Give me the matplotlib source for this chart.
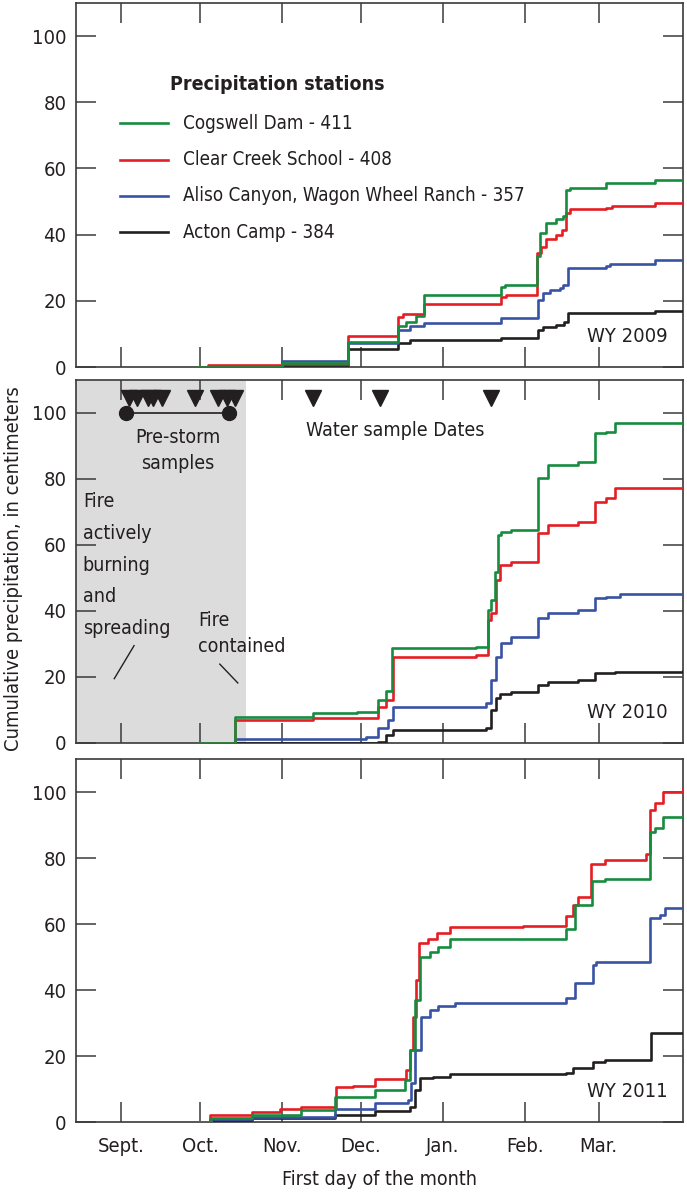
"""Cumulative precipitation at four stations, WY 2009-2011, three stacked panels."""

import matplotlib
matplotlib.use("Agg")
import matplotlib.pyplot as plt

# x axis: days after Sept. 1
month_days = [0, 30, 61, 91, 122, 153, 181]
month_labels = ["Sept.", "Oct.", "Nov.", "Dec.", "Jan.", "Feb.", "Mar."]

stations = ["Cogswell Dam - 411", "Clear Creek School - 408",
            "Aliso Canyon, Wagon Wheel Ranch - 357", "Acton Camp - 384"]
colors = ["#168c3f", "#e31e24", "#3953a4", "#231f20"]

# ---- WY 2009 -------------------------------------------------------------
wy09_green_d = [29, 61, 86, 105, 108, 112, 115, 144, 145.5, 157.5, 159, 161, 165,
                167.6, 168.8, 170, 184, 202.3, 213]
wy09_green_v = [0, 1.1, 7.7, 12.5, 13.5, 15.5, 21.8, 24.3, 24.8, 33.4, 40.5, 43.4, 44.7,
                45.5, 53.6, 54.1, 55.6, 56.4, 56.4]
wy09_red_d = [28.7, 33, 61, 86, 105, 107, 115, 144, 146, 157.5, 159.3, 161.2, 165, 167,
              168.8, 170, 184, 186, 202.3, 213]
wy09_red_v = [0, 0.7, 0.9, 9.5, 15.2, 15.9, 19.1, 21.3, 21.8, 34.4, 36.4, 38.8, 40, 41.5,
              46.6, 47.6, 48.1, 48.6, 49.6, 49.6]
wy09_blue_d = [29, 61, 86, 105, 109.5, 115, 144, 158.1, 160, 162.5, 166.3, 167.6, 169.5,
               184, 185.3, 202.3, 213]
wy09_blue_v = [0, 1.8, 7.2, 11.2, 12.5, 13.2, 14.7, 20.3, 22.3, 23.3, 23.8, 24.8, 29.9,
               30.6, 31.2, 32.2, 32.2]
wy09_black_d = [29, 61, 86, 105, 109.5, 144, 158.1, 160, 165, 168, 169.5, 202.3, 213]
wy09_black_v = [0, 0.5, 5.5, 7.4, 8.2, 8.9, 11.2, 12.2, 12.7, 13.7, 16.3, 16.8, 16.8]

# ---- WY 2010 -------------------------------------------------------------
wy10_green_d = [30, 43.2, 72.9, 89.3, 97.5, 100.6, 102.9, 134.7, 139.1, 140.4, 141.7,
                142.9, 144.2, 147.9, 158.1, 161.9, 173.2, 179.5, 184, 187.1, 213]
wy10_green_v = [0, 7.8, 9.0, 9.3, 13.0, 15.7, 28.9, 29.2, 40.3, 43.3, 51.9,
                63.0, 64.0, 64.5, 80.2, 84.2, 85.2, 94.0, 94.3, 96.9, 97.2]
wy10_red_d = [30, 43.2, 72.9, 97.5, 100.6, 103.2, 134.7, 139.1, 140.4, 142.3, 143.6,
              147.9, 158.1, 161.9, 173.2, 179.5, 184, 187.1, 213]
wy10_red_v = [0, 7.0, 7.5, 11.0, 13.0, 26.2, 26.7, 37.3, 39.3, 49.4, 53.9,
              54.9, 63.5, 66.1, 67.1, 73.1, 74.1, 77.2, 77.2]
wy10_blue_d = [30, 43.2, 93.0, 97.5, 101.3, 103.2, 138.5, 140.4, 142.3, 144.2, 147.9,
               158.1, 161.9, 173.2, 179.5, 184, 189, 213]
wy10_blue_v = [0, 1.1, 1.9, 4.4, 7.0, 11.0, 12.0, 19.1, 26.2, 30.2, 32.2,
               37.8, 39.3, 40.3, 43.8, 44.3, 45.3, 45.3]
wy10_black_d = [30, 97.5, 100.6, 103.2, 138.5, 140.4, 142.3, 143.6, 147.9, 158.1, 161.9,
                173.2, 179.5, 187.1, 213]
wy10_black_v = [0, 0.3, 2.4, 3.9, 4.4, 10.0, 13.5, 15.0, 15.5, 17.6, 18.6,
                19.1, 21.3, 21.6, 21.9]

# ---- WY 2011 -------------------------------------------------------------
wy11_green_d = [30, 34.3, 49.5, 68.4, 81.0, 96.2, 107.6, 109.4, 111.4, 113.2, 117.0,
                120.2, 124.6, 168.8, 171.9, 178.6, 183.3, 200.4, 202.3, 205.4, 213]
wy11_green_v = [0, 1.1, 2.1, 3.6, 7.7, 9.7, 12.7, 21.8, 37.0, 50.1, 51.6,
                52.9, 55.4, 58.5, 65.8, 73.1, 73.5, 88.0, 89.0, 92.3, 92.3]
wy11_red_d = [30, 33.7, 49.5, 60.2, 68.4, 81.7, 88.0, 96.2, 108.2, 109.4, 110.7, 111.7,
              113.0, 116.4, 119.6, 124.6, 152.4, 168.8, 171.3, 173.2, 178.3, 183.3,
              199.1, 200.4, 202.3, 205.4, 213]
wy11_red_v = [0, 2.1, 3.1, 3.8, 4.6, 10.5, 11.0, 12.9, 15.8, 21.8, 31.9, 43.0,
              54.1, 55.5, 57.4, 59.2, 59.5, 62.5, 65.8, 68.3, 78.2, 79.4,
              81.2, 94.5, 96.6, 100.1, 100.8]
wy11_blue_d = [30, 33.7, 49.5, 81.0, 96.2, 108.8, 110.1, 111.4, 113.9, 117.0, 120.2,
               126.5, 168.8, 171.9, 178.9, 180.2, 200.4, 204.2, 206.0, 213]
wy11_blue_v = [0, 0.8, 1.6, 3.8, 5.9, 6.6, 11.7, 21.8, 31.9, 33.9, 35.1,
               36.2, 37.5, 42.0, 47.6, 48.4, 61.7, 62.7, 64.9, 64.9]
wy11_black_d = [30, 33.7, 49.5, 81.0, 96.2, 109.4, 111.4, 113.2, 118.3, 124.6, 168.8,
                171.3, 178.9, 183.3, 201.0, 213]
wy11_black_v = [0, 0.5, 1.3, 2.2, 3.4, 4.6, 9.7, 13.2, 13.7, 14.5, 14.9,
                16.4, 18.3, 18.8, 26.9, 27.1]

# WY 2010 sampling / fire annotations
prestorm_days = [3.0, 6.1, 10.2, 12.1, 15.5, 28.0, 36.7, 40.2, 43.2]
water_days = [72.7, 98.1, 140.2]
prestorm_span = [1.9, 40.9]
fire_contained_day = 47.6

panels = [
    ("WY 2009", [(wy09_black_d, wy09_black_v), (wy09_blue_d, wy09_blue_v),
                 (wy09_red_d, wy09_red_v), (wy09_green_d, wy09_green_v)]),
    ("WY 2010", [(wy10_black_d, wy10_black_v), (wy10_blue_d, wy10_blue_v),
                 (wy10_red_d, wy10_red_v), (wy10_green_d, wy10_green_v)]),
    ("WY 2011", [(wy11_black_d, wy11_black_v), (wy11_blue_d, wy11_blue_v),
                 (wy11_red_d, wy11_red_v), (wy11_green_d, wy11_green_v)]),
]
draw_colors = colors[::-1]      # black, blue, red, green (green on top)

# narrow face, closest thing to the USGS condensed type
plt.rcParams["font.family"] = ["DejaVu Sans"]
plt.rcParams["font.stretch"] = "condensed"
FS = 14
INK = "#231f20"

W, H = 687, 1199
fig = plt.figure(figsize=(W / 100, H / 100), dpi=100)
boxes = [(3, 367), (380, 743), (759, 1122)]      # pixel top/bottom of each panel
axes = []
for top, bot in boxes:
    ax = fig.add_axes([76 / W, 1 - bot / H, 607 / W, (bot - top) / H])
    axes.append(ax)

for i, (ax, (wy, series)) in enumerate(zip(axes, panels)):
    for (d, v), c in zip(series, draw_colors):
        ax.step(d, v, where="post", color=c, lw=1.9, zorder=3)
    ax.set_xlim(-17, 213)
    ax.set_ylim(0, 110)
    ax.set_xticks(month_days)
    ax.set_yticks(range(0, 101, 20))
    ax.tick_params(direction="in", length=14.5, width=1.1, color="#3a3a3a",
                   top=True, right=True, labelsize=FS + 0.5, labelcolor=INK)
    ax.tick_params(axis="y", pad=7)
    ax.tick_params(axis="x", pad=11, labelbottom=(i == 2))
    ax.set_xticklabels(month_labels)
    for s in ax.spines.values():
        s.set_color("#3a3a3a")
        s.set_linewidth(1.2)
    ax.text(0.974, 0.085, wy, transform=ax.transAxes, ha="right", va="center",
            fontsize=FS + 0.5, color=INK)

# legend, drawn by hand to match the layout
ax = axes[0]
ax.text(0.155, 0.775, "Precipitation stations", transform=ax.transAxes,
        fontsize=FS, fontweight="bold", color=INK, va="center")
for k, (name, c) in enumerate(zip(stations, colors)):
    yy = 0.670 - k * 0.1
    ax.plot([0.0725, 0.1516], [yy, yy], transform=ax.transAxes, color=c, lw=1.9)
    ax.text(0.176, yy, name, transform=ax.transAxes, fontsize=FS - 0.5, color=INK,
            va="center")

# WY 2010 annotations
ax = axes[1]
ax.axvspan(-17, fire_contained_day, color="#dcdcdd", zorder=0, lw=0)
ax.plot(prestorm_days + water_days, [104.5] * len(prestorm_days + water_days), "v",
        color=INK, ms=11, ls="none", zorder=4)
ax.plot(prestorm_span, [100, 100], "-o", color=INK, lw=1.2, ms=10, zorder=4)
ax.text(21.6, 88.6, "Pre-storm\nsamples", ha="center", va="center", fontsize=FS,
        color=INK, linespacing=1.45)
ax.text(70, 94.8, "Water sample Dates", ha="left", va="center", fontsize=FS, color=INK)
ax.text(-14.4, 53.9, "Fire\nactively\nburning\nand\nspreading", ha="left", va="center",
        fontsize=FS, color=INK, linespacing=1.85)
ax.text(29.2, 33.2, "Fire\ncontained", ha="left", va="center", fontsize=FS, color=INK,
        linespacing=1.45)
ax.plot([5, -2.5], [29.5, 19.5], color=INK, lw=1)
ax.plot([37.5, 44.3], [23.9, 18.2], color=INK, lw=1)

fig.text(0.019, 0.526, "Cumulative precipitation, in centimeters", rotation=90,
         ha="center", va="center", fontsize=FS + 0.5, color=INK)
fig.text(0.553, 0.016, "First day of the month", ha="center", va="center",
         fontsize=FS, color=INK)

fig.savefig("out.png", dpi=100)
